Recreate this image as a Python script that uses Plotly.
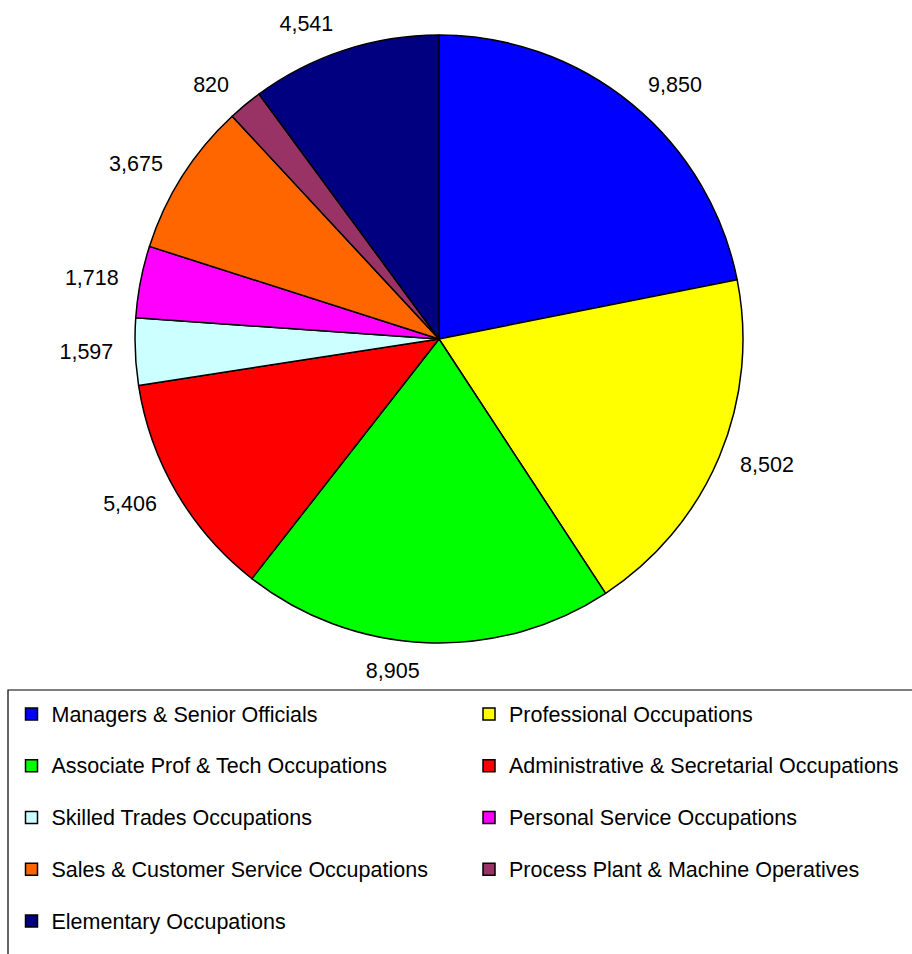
import plotly.graph_objects as go

categories = [
    "Managers & Senior Officials",
    "Professional Occupations",
    "Associate Prof & Tech Occupations",
    "Administrative & Secretarial Occupations",
    "Skilled Trades Occupations",
    "Personal Service Occupations",
    "Sales & Customer Service Occupations",
    "Process Plant & Machine Operatives",
    "Elementary Occupations",
]
values = [9850, 8502, 8905, 5406, 1597, 1718, 3675, 820, 4541]
colors = ["#0000FF", "#FFFF00", "#00FF00", "#FF0000", "#CCFFFF",
          "#FF00FF", "#FF6600", "#993366", "#000080"]

W, H = 912, 954
FONT = "Liberation Sans, Arial, sans-serif"

legend_labels = [
    f"<span style='font-size:21.5px;baseline-shift:7px'>{c}</span>" for c in categories
]

cx, cy, r = 439, 339, 304   # pie centre and radius (px)
r_lab = 320                 # radius at which the value labels sit


def dom(rad):
    return dict(x=[(cx - rad) / W, (cx + rad) / W],
                y=[1 - (cy + rad) / H, 1 - (cy - rad) / H])


fig = go.Figure()
# the slices
fig.add_trace(go.Pie(
    labels=legend_labels,
    values=values,
    marker=dict(colors=colors, line=dict(color="black", width=1.5)),
    sort=False,
    direction="clockwise",
    rotation=0,
    textinfo="none",
    hoverinfo="skip",
    domain=dom(r),
))
# transparent twin pie carrying the value labels a little further out
fig.add_trace(go.Pie(
    labels=legend_labels,
    values=values,
    marker=dict(colors=["rgba(0,0,0,0)"] * len(values), line=dict(width=0)),
    sort=False,
    direction="clockwise",
    rotation=0,
    textposition="outside",
    texttemplate="%{value:,}",
    textfont=dict(family=FONT, size=21.5, color="black"),
    hoverinfo="skip",
    showlegend=False,
    domain=dom(r_lab),
))

fig.update_layout(
    width=W, height=H,
    margin=dict(l=0, r=0, t=0, b=0, autoexpand=False),
    paper_bgcolor="white",
    plot_bgcolor="white",
    font=dict(family=FONT, color="black"),
    showlegend=True,
    legend=dict(
        orientation="h",
        x=11.5 / W, xanchor="left",
        y=1 - 683 / H, yanchor="top",
        entrywidth=412.5, entrywidthmode="pixels",
        font=dict(family=FONT, size=37.5, color="black"),
        itemclick=False, itemdoubleclick=False,
        bgcolor="rgba(0,0,0,0)",
        traceorder="normal",
    ),
    shapes=[dict(type="rect", xref="paper", yref="paper",
                 x0=8 / W, x1=1.02, y0=-0.02, y1=1 - 690 / H,
                 line=dict(color="black", width=1.2), fillcolor="rgba(0,0,0,0)",
                 layer="below")],
)

fig.write_html("out.html")
